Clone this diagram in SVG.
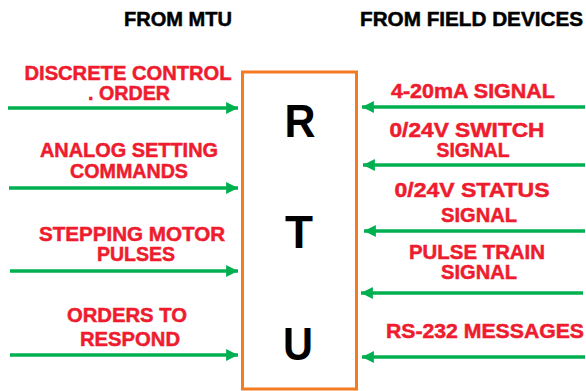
<svg xmlns="http://www.w3.org/2000/svg" width="586" height="391" viewBox="0 0 586 391">
<style>
.hd{font-family:"Liberation Sans",Arial,sans-serif;font-weight:bold;font-size:20px;fill:#000;stroke:#000;stroke-width:0.5}
.lb{font-family:"Liberation Sans",Arial,sans-serif;font-weight:bold;font-size:20px;fill:#EE1C2E;stroke:#EE1C2E;stroke-width:0.5;text-anchor:middle}
.big{font-family:"Liberation Sans",Arial,sans-serif;font-weight:bold;font-size:47px;fill:#000;text-anchor:middle}
.ar{stroke:#00B050;stroke-width:3.5;fill:none}
</style>
<defs>
<marker id="ah" viewBox="0 0 10 10" refX="10" refY="5" markerWidth="3.6" markerHeight="3.4" markerUnits="strokeWidth" orient="auto">
<path d="M0,0 L10,5 L0,10 Z" fill="#00B050"/>
</marker>
</defs>
<rect width="586" height="391" fill="#fff"/>
<text class="hd" x="124" y="26" textLength="108" lengthAdjust="spacingAndGlyphs">FROM MTU</text>
<text class="hd" x="360" y="26" textLength="223" lengthAdjust="spacingAndGlyphs">FROM FIELD DEVICES</text>
<g id="rtu">
<rect x="242.5" y="72" width="114" height="317" fill="#fff" stroke="#F47B20" stroke-width="3"/>
<text class="big" x="300" y="137" textLength="31" lengthAdjust="spacingAndGlyphs">R</text>
<text class="big" x="299" y="248" textLength="28" lengthAdjust="spacingAndGlyphs">T</text>
<text class="big" x="298" y="360" textLength="30" lengthAdjust="spacingAndGlyphs">U</text>
</g>
<g id="connectors">
<line class="ar" x1="8" y1="108" x2="238" y2="108" marker-end="url(#ah)"/>
<line class="ar" x1="9" y1="188" x2="238" y2="188" marker-end="url(#ah)"/>
<line class="ar" x1="10" y1="271" x2="238" y2="271" marker-end="url(#ah)"/>
<line class="ar" x1="10" y1="355" x2="238" y2="355" marker-end="url(#ah)"/>
<line class="ar" x1="585" y1="107" x2="362" y2="107" marker-end="url(#ah)"/>
<line class="ar" x1="585" y1="165" x2="363" y2="165" marker-end="url(#ah)"/>
<line class="ar" x1="585" y1="231" x2="364" y2="231" marker-end="url(#ah)"/>
<line class="ar" x1="583" y1="293" x2="361" y2="293" marker-end="url(#ah)"/>
<line class="ar" x1="585" y1="357" x2="362" y2="357" marker-end="url(#ah)"/>
</g>
<g id="l1"><text class="lb" x="128" y="80" textLength="207" lengthAdjust="spacingAndGlyphs">DISCRETE CONTROL</text><text class="lb" x="129" y="100" textLength="82" lengthAdjust="spacingAndGlyphs">. ORDER</text></g>
<g id="l2"><text class="lb" x="129" y="157" textLength="178" lengthAdjust="spacingAndGlyphs">ANALOG SETTING</text><text class="lb" x="129" y="178" textLength="118" lengthAdjust="spacingAndGlyphs">COMMANDS</text></g>
<g id="l3"><text class="lb" x="132" y="241" textLength="186" lengthAdjust="spacingAndGlyphs">STEPPING MOTOR</text><text class="lb" x="136" y="261" textLength="78" lengthAdjust="spacingAndGlyphs">PULSES</text></g>
<g id="l4"><text class="lb" x="127" y="322" textLength="120" lengthAdjust="spacingAndGlyphs">ORDERS TO</text><text class="lb" x="130" y="346" textLength="100" lengthAdjust="spacingAndGlyphs">RESPOND</text></g>
<g id="r1"><text class="lb" x="473" y="98" textLength="164" lengthAdjust="spacingAndGlyphs">4-20mA SIGNAL</text></g>
<g id="r2"><text class="lb" x="467" y="137" textLength="155" lengthAdjust="spacingAndGlyphs">0/24V SWITCH</text><text class="lb" x="473" y="157" textLength="73" lengthAdjust="spacingAndGlyphs">SIGNAL</text></g>
<g id="r3"><text class="lb" x="472" y="197" textLength="155" lengthAdjust="spacingAndGlyphs">0/24V STATUS</text><text class="lb" x="479" y="222" textLength="76" lengthAdjust="spacingAndGlyphs">SIGNAL</text></g>
<g id="r4"><text class="lb" x="477" y="259" textLength="136" lengthAdjust="spacingAndGlyphs">PULSE TRAIN</text><text class="lb" x="479" y="279" textLength="76" lengthAdjust="spacingAndGlyphs">SIGNAL</text></g>
<g id="r5"><text class="lb" x="485" y="338" textLength="198" lengthAdjust="spacingAndGlyphs">RS-232 MESSAGES</text></g>
</svg>
